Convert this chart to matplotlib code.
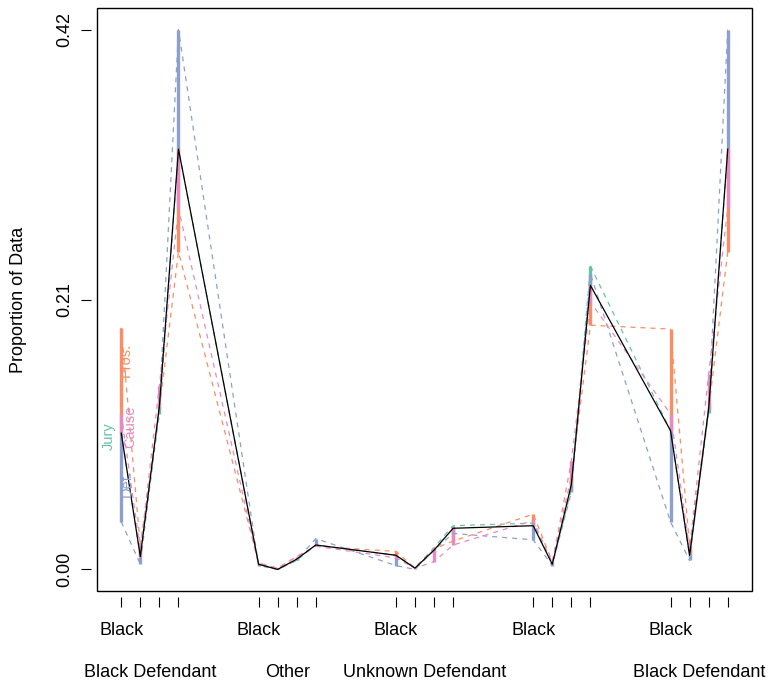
import matplotlib
import matplotlib.pyplot as plt
import matplotlib.transforms as mtransforms
from matplotlib.patches import Rectangle

matplotlib.use("Agg")

plt.rcParams["font.family"] = ["Liberation Sans", "DejaVu Sans"]

# 5 Gruppen x 4 Kategorien
group_names = ["Black Defendant", "Other", "Unknown Defendant", "", "Black Defendant"]
race_labels = ["Black", "", "", ""]

overall = [0.106, 0.010, 0.127, 0.327,
           0.004, 0.000, 0.008, 0.019,
           0.011, 0.001, 0.015, 0.032,
           0.034, 0.004, 0.066, 0.221,
           0.108, 0.011, 0.125, 0.327]
jury = [0.106, 0.010, 0.121, 0.327,
        0.004, 0.000, 0.007, 0.019,
        0.011, 0.001, 0.017, 0.034,
        0.036, 0.004, 0.062, 0.236,
        0.108, 0.010, 0.122, 0.327]
pros = [0.188, 0.018, 0.125, 0.247,
        0.005, 0.001, 0.010, 0.018,
        0.014, 0.001, 0.016, 0.022,
        0.043, 0.006, 0.072, 0.190,
        0.187, 0.018, 0.125, 0.247]
defense = [0.037, 0.004, 0.127, 0.420,
           0.003, 0.000, 0.007, 0.024,
           0.003, 0.000, 0.015, 0.028,
           0.023, 0.003, 0.060, 0.230,
           0.037, 0.007, 0.127, 0.420]
cause = [0.121, 0.015, 0.143, 0.281,
         0.004, 0.001, 0.010, 0.018,
         0.009, 0.001, 0.006, 0.019,
         0.038, 0.005, 0.084, 0.208,
         0.121, 0.016, 0.152, 0.281]

series = [
    ("Jury", jury, "#66C2A5"),
    ("Pros.", pros, "#FC8D62"),
    ("Def.", defense, "#8DA0CB"),
    ("Cause", cause, "#E78AC3"),
]
# Beschriftung der Reihen an der ersten Kategorie (x-Versatz, y)
label_pos = {"Jury": (-0.68, 0.104), "Pros.": (0.25, 0.163),
             "Def.": (0.30, 0.067), "Cause": (0.45, 0.111)}

GAP = 7.2
n_per = len(race_labels)
xs = [g * GAP + j for g in range(len(group_names)) for j in range(n_per)]
span = xs[-1] - xs[0]
ymax = 0.42

fig = plt.figure(figsize=(7.69, 6.80), dpi=100)
ax = fig.add_axes([97 / 769, 1 - 591 / 680, 655 / 769, 583 / 680])

for name, vals, col in series:
    ax.vlines(xs, overall, vals, colors=col, lw=2.4, zorder=2)
for name, vals, col in series:
    ax.plot(xs, vals, color=col, lw=0.9, ls=(0, (4, 4)), zorder=3)
ax.plot(xs, overall, color="black", lw=0.9, zorder=4)

for name, vals, col in series:
    dx, y = label_pos[name]
    ax.text(xs[0] + dx, y, name, color=col, fontsize=10.5, rotation=90,
            ha="center", va="center", zorder=5)

ax.set_xlim(xs[0] - 0.04 * span, xs[-1] + 0.04 * span)
ax.set_ylim(-0.04 * ymax, ymax * 1.04)

for s in ax.spines.values():
    s.set_visible(False)
ax.spines["left"].set_position(("outward", 4.3))
ax.spines["bottom"].set_position(("outward", 4.3))
ax.add_patch(Rectangle((0, 0), 1, 1, transform=ax.transAxes, fill=False,
                       ec="black", lw=1.0, clip_on=False))

ax.set_xticks(xs)
ax.set_yticks([0, 0.21, 0.42])
ax.tick_params(direction="out", length=7.5, width=0.8,
               labelbottom=False, labelleft=False)

# y-Achsenbeschriftung im R-Stil (gedreht)
for v in [0, 0.21, 0.42]:
    ax.text(-0.0489, v, f"{v:.2f}", transform=ax.get_yaxis_transform(),
            rotation=90, ha="center", va="center", fontsize=13)
ax.text(-0.1206, 0.5, "Proportion of Data", transform=ax.transAxes,
        rotation=90, ha="center", va="center", fontsize=13)

trans = mtransforms.blended_transform_factory(ax.transData, ax.transAxes)
for i, x in enumerate(xs):
    lab = race_labels[i % n_per]
    if lab:
        ax.text(x, -0.0763, lab, transform=trans, ha="center",
                va="baseline", fontsize=13)
for g, name in enumerate(group_names):
    if name:
        xc = g * GAP + (n_per - 1) / 2
        ax.text(xc, -0.1467, name, transform=trans, ha="center",
                va="baseline", fontsize=13)

fig.savefig("out.png", dpi=100)
